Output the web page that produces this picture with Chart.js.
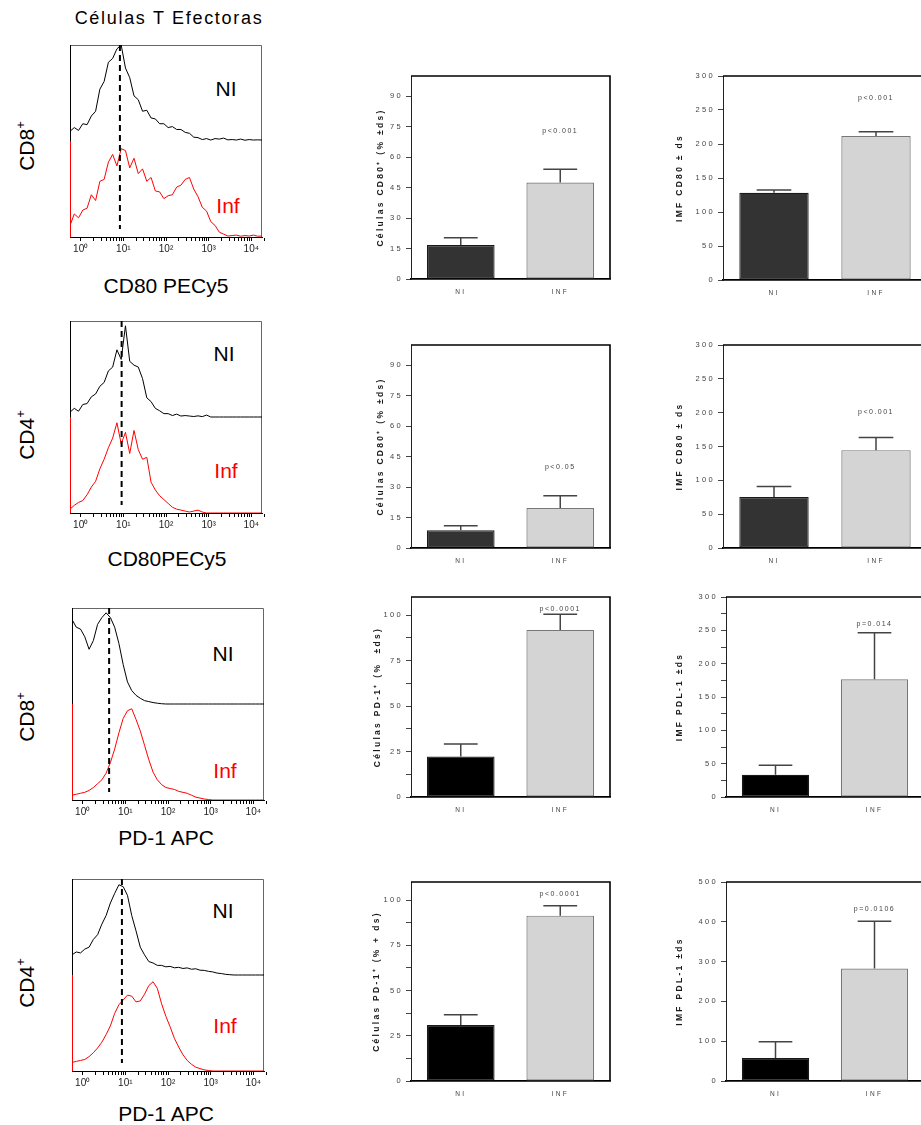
<!DOCTYPE html>
<html lang="es">
<head>
<meta charset="utf-8">
<title>Células T Efectoras</title>
<script src="https://cdn.jsdelivr.net/npm/chart.js@4.4.1/dist/chart.umd.min.js"></script>
<style>
  html, body { margin: 0; padding: 0; background: #fff; overflow: hidden; }
  body { position: relative; width: 921px; height: 1125px; font-family: Arial, "Liberation Sans", sans-serif; }
  canvas { position: absolute; }
  .txt { position: absolute; transform: translate(-50%, -50%); white-space: nowrap; color: #000; line-height: 1; }
  .titulo { font-size: 18px; letter-spacing: 1.7px; }
  .eje { font-size: 21px; }
  .fila { font-size: 21px; transform: translate(-50%, -50%) rotate(-90deg); }
  .fila span { font-size: 13px; vertical-align: 9px; }
  .ni { font-size: 21px; }
  .inf { font-size: 21px; color: #ff0000; }
</style>
</head>
<body>
<div class="txt titulo" style="left:169px;top:18px">Células T Efectoras</div>

<div class="txt fila" style="left:25px;top:146px">CD8<span>+</span></div>
<div class="txt fila" style="left:25px;top:435px">CD4<span>+</span></div>
<div class="txt fila" style="left:25px;top:717px">CD8<span>+</span></div>
<div class="txt fila" style="left:25px;top:983px">CD4<span>+</span></div>

<div class="txt eje" style="left:166px;top:285px">CD80 PECy5</div>
<div class="txt eje" style="left:167px;top:558px">CD80PECy5</div>
<div class="txt eje" style="left:166px;top:837px">PD-1 APC</div>
<div class="txt eje" style="left:166px;top:1113px">PD-1 APC</div>

<div class="txt ni" style="left:226px;top:88px">NI</div>
<div class="txt inf" style="left:228px;top:205px">Inf</div>
<div class="txt ni" style="left:224px;top:353px">NI</div>
<div class="txt inf" style="left:226px;top:470px">Inf</div>
<div class="txt ni" style="left:223px;top:653px">NI</div>
<div class="txt inf" style="left:225px;top:770px">Inf</div>
<div class="txt ni" style="left:223px;top:910px">NI</div>
<div class="txt inf" style="left:225px;top:1025px">Inf</div>

<script>
"use strict";

// Canales de fluorescencia (log10 de la intensidad)
const canales = [
  -0.25, -0.15, -0.05, 0.05, 0.15, 0.25, 0.35, 0.45, 0.55, 0.65, 0.75, 0.85, 0.95,
  1.05, 1.15, 1.25, 1.35, 1.45, 1.55, 1.65, 1.75, 1.85, 1.95,
  2.05, 2.15, 2.25, 2.35, 2.45, 2.55, 2.65, 2.75, 2.85, 2.95,
  3.05, 3.15, 3.25, 3.35, 3.45, 3.55, 3.65, 3.75, 3.85, 3.95,
  4.05, 4.15, 4.25,
];

// Histogramas (eventos relativos al máximo de cada población)
const cd80Cd8NI = [
  0.10, 0.14, 0.11, 0.18, 0.17, 0.26, 0.31, 0.54, 0.62, 0.82, 0.86, 0.96, 1.00,
  0.76, 0.66, 0.47, 0.43, 0.31, 0.32, 0.24, 0.23, 0.18, 0.18,
  0.14, 0.15, 0.12, 0.12, 0.09, 0.08, 0.04, 0.035, 0.015, 0.025,
  0.01, 0.025, 0.02, 0.03, 0.012, 0.015, 0.01, 0.02, 0.008, 0.015,
  0.01, 0.012, 0.01,
];
const cd80Cd8Inf = [
  0.12, 0.24, 0.20, 0.28, 0.30, 0.44, 0.38, 0.58, 0.60, 0.78, 0.86, 0.74, 0.92,
  0.90, 0.72, 0.82, 0.66, 0.71, 0.58, 0.62, 0.48, 0.47, 0.40,
  0.43, 0.44, 0.52, 0.54, 0.60, 0.62, 0.50, 0.42, 0.31, 0.27,
  0.16, 0.12, 0.05, 0.03, 0.01, 0.015, 0.02, 0.008, 0.015, 0.01,
  0.02, 0.008, 0.01,
];
const cd80Cd4NI = [
  0.05, 0.09, 0.06, 0.13, 0.14, 0.21, 0.24, 0.32, 0.36, 0.48, 0.52, 0.70, 0.60,
  0.95, 0.58, 0.54, 0.52, 0.40, 0.20, 0.16, 0.09, 0.065, 0.035,
  0.035, 0.015, 0.03, 0.01, 0.015, 0.01, 0.005, 0.012, 0.004, 0.02,
  0, 0, 0, 0, 0, 0, 0, 0, 0, 0,
  0, 0, 0,
];
const cd80Cd4Inf = [
  0.04, 0.08, 0.11, 0.13, 0.19, 0.27, 0.33, 0.46, 0.56, 0.68, 0.78, 0.94, 0.72,
  0.84, 0.62, 0.86, 0.66, 0.56, 0.58, 0.32, 0.24, 0.18, 0.14,
  0.10, 0.06, 0.04, 0.03, 0.02, 0.01, 0.02, 0.03, 0.01, 0,
  0, 0, 0, 0, 0, 0, 0, 0, 0, 0,
  0, 0, 0,
];
const pd1Cd8NI = [
  0.88, 0.80, 0.78, 0.70, 0.57, 0.66, 0.83, 0.90, 0.95, 0.90, 0.80, 0.63, 0.41,
  0.23, 0.14, 0.09, 0.06, 0.035, 0.025, 0.015, 0.008, 0.003, 0,
  0, 0, 0, 0, 0, 0, 0, 0, 0, 0,
  0, 0, 0, 0, 0, 0, 0, 0, 0, 0,
  0, 0, 0,
];
const pd1Cd8Inf = [
  0.05, 0.06, 0.07, 0.08, 0.10, 0.13, 0.17, 0.21, 0.28, 0.39, 0.53, 0.70, 0.85,
  0.93, 0.95, 0.84, 0.72, 0.57, 0.42, 0.29, 0.21, 0.16, 0.13,
  0.12, 0.11, 0.09, 0.08, 0.07, 0.05, 0.03, 0.02, 0.01, 0.005,
  0, 0, 0, 0, 0, 0, 0, 0, 0, 0,
  0, 0, 0,
];
const pd1Cd4NI = [
  0.21, 0.24, 0.23, 0.27, 0.29, 0.37, 0.42, 0.53, 0.62, 0.75, 0.85, 0.94, 0.92,
  0.83, 0.62, 0.46, 0.29, 0.21, 0.14, 0.125, 0.10, 0.10, 0.085,
  0.09, 0.075, 0.08, 0.068, 0.074, 0.06, 0.065, 0.05, 0.048, 0.038,
  0.032, 0.02, 0.015, 0.007, 0.003, 0, 0, 0, 0, 0,
  0, 0, 0,
];
const pd1Cd4Inf = [
  0.09, 0.10, 0.11, 0.12, 0.15, 0.19, 0.24, 0.30, 0.38, 0.47, 0.60, 0.69, 0.74,
  0.79, 0.78, 0.72, 0.73, 0.80, 0.89, 0.93, 0.86, 0.70, 0.57,
  0.46, 0.34, 0.25, 0.17, 0.11, 0.07, 0.04, 0.025, 0.012, 0.005,
  0, 0, 0, 0, 0, 0, 0, 0, 0, 0,
  0, 0, 0,
];

// Umbral de positividad (línea discontinua, log10)
const umbrales = [0.92, 0.96, 0.62, 0.92];

// Décadas del eje logarítmico y sus etiquetas
const decadas = [0, 1, 2, 3, 4];
const etiquetasDecada = ["10⁰", "10¹", "10²", "10³", "10⁴"];

// Barras: media y desviación estándar por grupo
const grupos = ["NI", "INF"];
const celCD80Cd8 = [16.7, 47.5];
const celCD80Cd8Ds = [3.6, 6.6];
const imfCD80Cd8 = [128.4, 211.8];
const imfCD80Cd8Ds = [4.0, 6.2];
const celCD80Cd4 = [8.7, 19.7];
const celCD80Cd4Ds = [2.3, 6.0];
const imfCD80Cd4 = [75.2, 144.6];
const imfCD80Cd4Ds = [15.7, 18.6];
const celPD1Cd8 = [22.3, 91.9];
const celPD1Cd8Ds = [6.8, 8.6];
const imfPDL1Cd8 = [33.4, 176.5];
const imfPDL1Cd8Ds = [14.4, 69.7];
const celPD1Cd4 = [30.9, 91.4];
const celPD1Cd4Ds = [5.7, 5.5];
const imfPDL1Cd4 = [57.7, 282.7];
const imfPDL1Cd4Ds = [40.9, 118.7];

const valoresP = ["p<0.001", "p<0.001", "p<0.05", "p<0.001", "p<0.0001", "p=0.014", "p<0.0001", "p=0.0106"];

// Escalas Y: máximo, paso de marcas y paso de etiquetas
const maximosY = [100, 300, 100, 300, 110, 300, 110, 500];
const pasosY = [15, 50, 15, 50, 12.5, 25, 12.5, 100];
const pasosEtiqueta = [15, 50, 15, 50, 25, 50, 25, 100];

const titulosY = [
  "Células CD80⁺ (% ±ds)",
  "IMF CD80 ± ds",
  "Células CD80⁺ (% ±ds)",
  "IMF CD80 ± ds",
  "Células PD-1⁺ (%  ±ds)",
  "IMF PDL-1 ±ds",
  "Células PD-1⁺ (% + ds)",
  "IMF PDL-1 ±ds",
];

const histogramas = [
  [cd80Cd8NI, cd80Cd8Inf],
  [cd80Cd4NI, cd80Cd4Inf],
  [pd1Cd8NI, pd1Cd8Inf],
  [pd1Cd4NI, pd1Cd4Inf],
];
const paneles = [
  [celCD80Cd8, celCD80Cd8Ds],
  [imfCD80Cd8, imfCD80Cd8Ds],
  [celCD80Cd4, celCD80Cd4Ds],
  [imfCD80Cd4, imfCD80Cd4Ds],
  [celPD1Cd8, celPD1Cd8Ds],
  [imfPDL1Cd8, imfPDL1Cd8Ds],
  [celPD1Cd4, celPD1Cd4Ds],
  [imfPDL1Cd4, imfPDL1Cd4Ds],
];

/* ── Posiciones en la página ───────────────────────────── */
// Caja de cada histograma (esquina superior izquierda, lado 192)
const cajasHist = [
  { izq: 70, sup: 45 },
  { izq: 70, sup: 321 },
  { izq: 72, sup: 608 },
  { izq: 72, sup: 879 },
];
// Paneles de barras: x del eje, borde derecho, borde superior, línea del cero,
// separación del título y altura (en unidades del eje) del valor p
const marcos = [
  { eje: 411, der: 610, sup: 76, cero: 279, tit: 55, yP: 73 },
  { eje: 723, der: 927, sup: 76, cero: 280, tit: 42, yP: 268 },
  { eje: 411, der: 610, sup: 345, cero: 548, tit: 55, yP: 40 },
  { eje: 723, der: 927, sup: 345, cero: 548, tit: 42, yP: 201 },
  { eje: 411, der: 610, sup: 597, cero: 797, tit: 52, yP: 103.5 },
  { eje: 726, der: 924, sup: 597, cero: 797, tit: 39, yP: 259 },
  { eje: 411, der: 610, sup: 882, cero: 1081, tit: 51, yP: 103.5 },
  { eje: 726, der: 924, sup: 882, cero: 1081, tit: 39, yP: 432 },
];

const Figura = {
  init() {
    Chart.defaults.font.family = 'Arial, "Liberation Sans", sans-serif';
    Chart.defaults.color = "#333";
    histogramas.forEach((h, i) => this._histograma(i));
    paneles.forEach((p, i) => this._barras(i));
  },

  _lienzo(izq, sup, ancho, alto) {
    const c = document.createElement("canvas");
    c.width = ancho;
    c.height = alto;
    c.style.left = izq + "px";
    c.style.top = sup + "px";
    document.body.appendChild(c);
    return c.getContext("2d");
  },

  /* ── Histogramas ───────────────────────────── */
  _histograma(i) {
    const [ni, inf] = histogramas[i];
    const caja = cajasHist[i];
    const lienzo = this._lienzo(caja.izq - 10, caja.sup - 10, 215, 232);

    new Chart(lienzo, {
      type: "line",
      data: {
        datasets: [
          {
            // NI va en la mitad superior
            data: canales.map((c, k) => ({ x: c, y: 1 + ni[k] })),
            borderColor: "#000",
            borderWidth: 1,
            pointRadius: 0,
            tension: 0,
          },
          {
            data: canales.map((c, k) => ({ x: c, y: inf[k] })),
            borderColor: "#ff0000",
            borderWidth: 1,
            pointRadius: 0,
            tension: 0,
          },
        ],
      },
      options: {
        responsive: false,
        animation: false,
        events: [],
        layout: { padding: { left: 10, right: 13, top: 10, bottom: 0 } },
        plugins: { legend: { display: false }, tooltip: { enabled: false } },
        scales: {
          x: {
            type: "linear",
            min: -0.25,
            max: 4.25,
            afterBuildTicks: (eje) => {
              const marcas = [];
              decadas.forEach((d) => {
                marcas.push({ value: d });
                if (d < 4) {
                  for (let k = 2; k <= 9; k++) marcas.push({ value: d + Math.log10(k) });
                }
              });
              marcas.push({ value: 4 + Math.log10(2) });
              eje.ticks = marcas;
            },
            ticks: {
              autoSkip: false,
              maxRotation: 0,
              padding: 2,
              color: "#222",
              font: { size: 10 },
              callback: (v) => {
                const k = decadas.indexOf(v);
                return k >= 0 ? etiquetasDecada[k] : "";
              },
            },
            grid: { drawOnChartArea: false, tickLength: 4, tickColor: "#000" },
            border: { color: "#000", width: 1 },
            afterFit: (eje) => {
              eje.height = 30;
            },
          },
          y: { display: false, min: 0, max: 2 },
        },
      },
      plugins: [this._marcoHist(umbrales[i])],
    });
  },

  _marcoHist(umbral) {
    return {
      id: "marcoHist",
      beforeDatasetsDraw(chart) {
        const { ctx, chartArea: a } = chart;
        const mitad = chart.scales.y.getPixelForValue(1);
        ctx.save();
        ctx.lineWidth = 1;
        ctx.strokeStyle = "#666";
        ctx.beginPath();
        ctx.moveTo(a.left, a.top + 0.5);
        ctx.lineTo(a.right - 0.5, a.top + 0.5);
        ctx.lineTo(a.right - 0.5, a.bottom);
        ctx.stroke();
        ctx.strokeStyle = "#000";
        ctx.beginPath();
        ctx.moveTo(a.left + 0.5, a.top);
        ctx.lineTo(a.left + 0.5, mitad);
        ctx.stroke();
        ctx.strokeStyle = "#ff0000";
        ctx.beginPath();
        ctx.moveTo(a.left + 0.5, mitad);
        ctx.lineTo(a.left + 0.5, a.bottom);
        ctx.stroke();
        ctx.restore();
      },
      afterDatasetsDraw(chart) {
        const { ctx, chartArea: a } = chart;
        const x = chart.scales.x.getPixelForValue(umbral);
        ctx.save();
        ctx.strokeStyle = "#000";
        ctx.lineWidth = 2;
        ctx.setLineDash([6, 4]);
        ctx.beginPath();
        ctx.moveTo(x, a.top);
        ctx.lineTo(x, a.bottom - 8);
        ctx.stroke();
        ctx.restore();
      },
    };
  },

  /* ── Barras ───────────────────────────── */
  _barras(i) {
    const [medias, ds] = paneles[i];
    const m = marcos[i];
    const anchoEje = 90;
    const lienzo = this._lienzo(m.eje - anchoEje, m.sup - 12, anchoEje + (m.der - m.eje) + 6, 12 + (m.cero - m.sup) + 28);
    // Filas 3 y 4 usan NI en negro
    const colorNI = i < 4 ? "#333333" : "#000000";

    new Chart(lienzo, {
      type: "bar",
      data: {
        labels: grupos,
        datasets: [
          {
            data: medias,
            backgroundColor: [colorNI, "#d4d4d4"],
            borderColor: ["#1a1a1a", "#777"],
            borderWidth: 1.2,
            borderSkipped: false,
            barPercentage: 0.68,
            categoryPercentage: 1,
          },
        ],
      },
      options: {
        responsive: false,
        animation: false,
        events: [],
        layout: { padding: { left: 0, right: 6, top: 12, bottom: 0 } },
        plugins: { legend: { display: false }, tooltip: { enabled: false } },
        scales: {
          x: {
            grid: { display: false, drawTicks: false },
            border: { color: "#000", width: 1.8 },
            ticks: { color: "#444", font: { size: 6.5 }, padding: 9 },
            afterFit: (eje) => {
              eje.height = 28;
            },
          },
          y: {
            min: 0,
            max: maximosY[i],
            ticks: {
              stepSize: pasosY[i],
              includeBounds: false,
              autoSkip: false,
              color: "#444",
              font: { size: 7.5 },
              padding: 3,
              callback: (v) => (v % pasosEtiqueta[i] === 0 ? String(v) : ""),
            },
            grid: { drawOnChartArea: false, tickLength: 5, tickColor: "#444", tickWidth: 1 },
            border: { color: "#222", width: 1 },
            title: {
              display: true,
              text: titulosY[i],
              color: "#1a1a1a",
              font: { size: 8.5, weight: "bold" },
              padding: { top: m.tit, bottom: 0 },
            },
            afterFit: (eje) => {
              eje.width = anchoEje;
            },
          },
        },
      },
      plugins: [this._espaciado(), this._marcoBarras(), this._errorYP(ds, medias, valoresP[i], m.yP)],
    });
  },

  // Texto espaciado de estilo Prism
  _espaciado() {
    return {
      id: "espaciado",
      beforeDraw(chart) {
        chart.ctx.letterSpacing = "2.3px";
      },
    };
  },

  _marcoBarras() {
    return {
      id: "marcoBarras",
      afterDraw(chart) {
        const { ctx, chartArea: a } = chart;
        ctx.save();
        ctx.strokeStyle = "#000";
        ctx.lineWidth = 1.6;
        ctx.beginPath();
        ctx.moveTo(a.left, a.top);
        ctx.lineTo(a.right, a.top);
        ctx.lineTo(a.right, a.bottom);
        ctx.stroke();
        ctx.restore();
      },
    };
  },

  _errorYP(ds, medias, textoP, yP) {
    return {
      id: "errorYP",
      afterDatasetsDraw(chart) {
        const { ctx } = chart;
        const y = chart.scales.y;
        const barras = chart.getDatasetMeta(0).data;
        ctx.save();
        ctx.strokeStyle = "#444";
        ctx.lineWidth = 1.5;
        barras.forEach((barra, k) => {
          const tope = y.getPixelForValue(medias[k] + ds[k]);
          const semi = barra.width / 4;
          ctx.beginPath();
          ctx.moveTo(barra.x, barra.y);
          ctx.lineTo(barra.x, tope);
          ctx.moveTo(barra.x - semi, tope);
          ctx.lineTo(barra.x + semi, tope);
          ctx.stroke();
        });
        // Significación sobre el grupo INF
        ctx.letterSpacing = "1.5px";
        ctx.fillStyle = "#444";
        ctx.font = '7px Arial, "Liberation Sans", sans-serif';
        ctx.textAlign = "center";
        ctx.textBaseline = "middle";
        ctx.fillText(textoP, barras[1].x, y.getPixelForValue(yP));
        ctx.restore();
      },
    };
  },
};

Figura.init();
</script>
</body>
</html>
